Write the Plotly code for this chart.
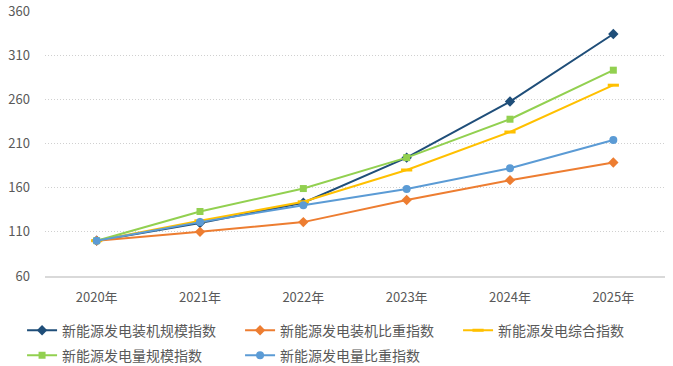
import plotly.graph_objects as go

years = ["2020年", "2021年", "2022年", "2023年", "2024年", "2025年"]
s_install_scale = [100, 120, 143, 194, 257.5, 334]
s_install_share = [100, 110, 121, 146, 168.5, 188.5]
s_composite = [100, 122.5, 144, 180, 223, 276]
s_gen_scale = [100, 133, 159, 194, 237.5, 293]
s_gen_share = [100, 121, 140, 158.5, 182, 214]

names = ["新能源发电装机规模指数", "新能源发电装机比重指数", "新能源发电综合指数",
         "新能源发电量规模指数", "新能源发电量比重指数"]

series = [
    (names[0], s_install_scale, "#1F4E79", "diamond", 8, "legend"),
    (names[1], s_install_share, "#ED7D31", "diamond", 8, "legend"),
    (names[2], s_composite, "#FFC000", "line-ew", 8, "legend"),
    (names[3], s_gen_scale, "#92D050", "square", 7, "legend2"),
    (names[4], s_gen_share, "#5B9BD5", "circle", 8, "legend2"),
]

fig = go.Figure()
for name, vals, color, sym, sz, lg in series:
    marker = dict(symbol=sym, size=sz, color=color)
    if sym == "line-ew":
        marker = dict(symbol=sym, size=8, color=color, line=dict(color=color, width=3))
    fig.add_trace(go.Scatter(x=years, y=vals, name=name, mode="lines+markers",
                             line=dict(color=color, width=2), marker=marker, legend=lg))

font_family = "Noto Sans CJK SC"
legend_common = dict(orientation="h", xanchor="left", yanchor="top",
                     entrywidth=173, entrywidthmode="pixels", itemwidth=30,
                     font=dict(size=14, color="#595959", family=font_family),
                     bgcolor="rgba(0,0,0,0)")
fig.update_layout(
    width=673, height=366,
    margin=dict(l=45, r=8, t=11, b=90, autoexpand=False),
    plot_bgcolor="white", paper_bgcolor="white",
    font=dict(family=font_family, color="#595959", size=13),
    xaxis=dict(showgrid=False, showline=True, linecolor="#D9D9D9", linewidth=2,
               range=[-0.5, 5.5],
               ticks="", ticklabelstandoff=8, tickfont=dict(size=13, color="#595959")),
    yaxis=dict(range=[60, 360], tickvals=[60, 110, 160, 210, 260, 310, 360],
               showgrid=True, gridcolor="#D0D0D0", griddash="1px,2px", gridwidth=1,
               zeroline=False, showline=False, ticks="", ticklabelstandoff=14,
               tickfont=dict(size=13, color="#595959")),
    legend=dict(x=-0.037, y=-0.1456, **legend_common),
    legend2=dict(x=-0.037, y=-0.2401, **legend_common),
    showlegend=True,
)

fig.write_html("out.html", config={"displayModeBar": False},
               post_script="document.body.style.margin='0';")
